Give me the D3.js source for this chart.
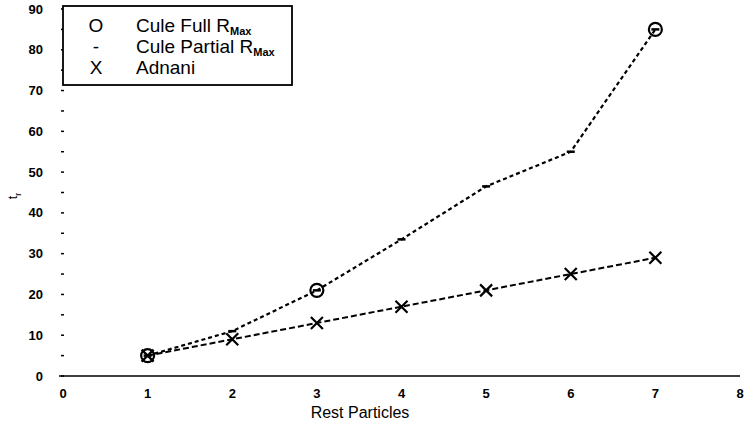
<!DOCTYPE html>
<html>
<head>
<meta charset="utf-8">
<script src="https://cdn.jsdelivr.net/npm/d3@7"></script>
<style>
body { margin: 0; background: #fff; }
text { font-family: "Liberation Sans", Arial, sans-serif; fill: #000; }
</style>
</head>
<body>
<script>
// data
var fullX = [1, 3, 7],
    fullY = [5, 21, 85];
var partialX = [1, 2, 3, 4, 5, 6, 7],
    partialY = [5, 11, 21, 33.5, 46.5, 55, 85];
var adnaniX = [1, 2, 3, 4, 5, 6, 7],
    adnaniY = [5, 9, 13, 17, 21, 25, 29];
var xTicks = [0, 1, 2, 3, 4, 5, 6, 7, 8],
    yTicks = [0, 10, 20, 30, 40, 50, 60, 70, 80, 90],
    yMinor = [5, 15, 25, 35, 45, 55, 65, 75, 85];
var legendLabels = ["Cule Full R", "Cule Partial R", "Adnani"],
    legendSubs = ["Max", "Max", ""];

var width = 744, height = 433;

var svg = d3.select("body")
    .append("svg")
    .attr("width", width)
    .attr("height", height);

var x = d3.scaleLinear().domain([0, 8]).range([63, 740]),
    y = d3.scaleLinear().domain([0, 90]).range([376, 9]);

function pairs(xs, ys) {
    return xs.map(function (d, i) { return [d, ys[i]]; });
}

// x axis line
svg.append("line")
    .attr("x1", x(0) - 4).attr("x2", x(8))
    .attr("y1", y(0)).attr("y2", y(0))
    .attr("stroke", "#000").attr("stroke-width", 1.3);

// y axis: only small tick marks, no line
svg.selectAll(".ytick")
    .data(yTicks.concat(yMinor))
    .enter().append("line")
    .attr("x1", 61).attr("x2", 64)
    .attr("y1", function (d) { return y(d); })
    .attr("y2", function (d) { return y(d); })
    .attr("stroke", "#000").attr("stroke-width", 1.5);

svg.selectAll(".ylab")
    .data(yTicks)
    .enter().append("text")
    .attr("x", 43)
    .attr("y", function (d) { return y(d); })
    .attr("dy", "0.35em")
    .attr("text-anchor", "end")
    .attr("font-size", 13)
    .attr("font-weight", "bold")
    .text(function (d) { return d; });

svg.selectAll(".xlab")
    .data(xTicks)
    .enter().append("text")
    .attr("x", function (d) { return x(d); })
    .attr("y", 398)
    .attr("text-anchor", "middle")
    .attr("font-size", 13)
    .attr("font-weight", "bold")
    .text(function (d) { return d; });

svg.append("text")
    .attr("x", 360).attr("y", 418)
    .attr("text-anchor", "middle")
    .attr("font-size", 16)
    .text("Rest Particles");

// y axis title (t with subscript r), rotated
var yt = svg.append("text")
    .attr("transform", "translate(17,196) rotate(-90)")
    .attr("text-anchor", "middle")
    .attr("font-size", 12);
yt.append("tspan").text("t");
yt.append("tspan").attr("font-size", 9).attr("dy", 4).text("r");

var line = d3.line()
    .x(function (d) { return x(d[0]); })
    .y(function (d) { return y(d[1]); });

svg.append("path")
    .datum(pairs(adnaniX, adnaniY))
    .attr("d", line)
    .attr("fill", "none")
    .attr("stroke", "#000")
    .attr("stroke-width", 2)
    .attr("stroke-dasharray", "6,3");

svg.append("path")
    .datum(pairs(partialX, partialY))
    .attr("d", line)
    .attr("fill", "none")
    .attr("stroke", "#000")
    .attr("stroke-width", 2.2)
    .attr("stroke-dasharray", "4,3");

// markers
svg.selectAll(".pmark")
    .data(pairs(partialX, partialY))
    .enter().append("line")
    .attr("x1", function (d) { return x(d[0]) - 4; })
    .attr("x2", function (d) { return x(d[0]) + 4; })
    .attr("y1", function (d) { return y(d[1]); })
    .attr("y2", function (d) { return y(d[1]); })
    .attr("stroke", "#000").attr("stroke-width", 2.5);

svg.selectAll(".amark")
    .data(pairs(adnaniX, adnaniY))
    .enter().append("path")
    .attr("transform", function (d) { return "translate(" + x(d[0]) + "," + y(d[1]) + ")"; })
    .attr("d", "M-6,-6L6,6M-6,6L6,-6")
    .attr("stroke", "#000").attr("stroke-width", 2.2);

svg.selectAll(".fmark")
    .data(pairs(fullX, fullY))
    .enter().append("circle")
    .attr("cx", function (d) { return x(d[0]); })
    .attr("cy", function (d) { return y(d[1]); })
    .attr("r", 6.5)
    .attr("fill", "none")
    .attr("stroke", "#000").attr("stroke-width", 2.2);

// legend
var lg = svg.append("g");
lg.append("rect")
    .attr("x", 63).attr("y", 6)
    .attr("width", 229).attr("height", 79)
    .attr("fill", "#fff")
    .attr("stroke", "#000").attr("stroke-width", 1.8);

var symbols = ["O", "-", "X"];
legendLabels.forEach(function (lab, i) {
    var ly = 25 + i * 21;
    lg.append("text")
        .attr("x", 96).attr("y", ly)
        .attr("dy", "0.35em")
        .attr("text-anchor", "middle")
        .attr("font-size", 19)
        .text(symbols[i]);
    var t = lg.append("text")
        .attr("x", 136).attr("y", ly)
        .attr("dy", "0.35em")
        .attr("font-size", 19);
    t.append("tspan").text(lab);
    if (legendSubs[i]) {
        t.append("tspan").attr("font-size", 11).attr("dy", 3).attr("font-weight", "bold").text(legendSubs[i]);
    }
});
</script>
</body>
</html>
